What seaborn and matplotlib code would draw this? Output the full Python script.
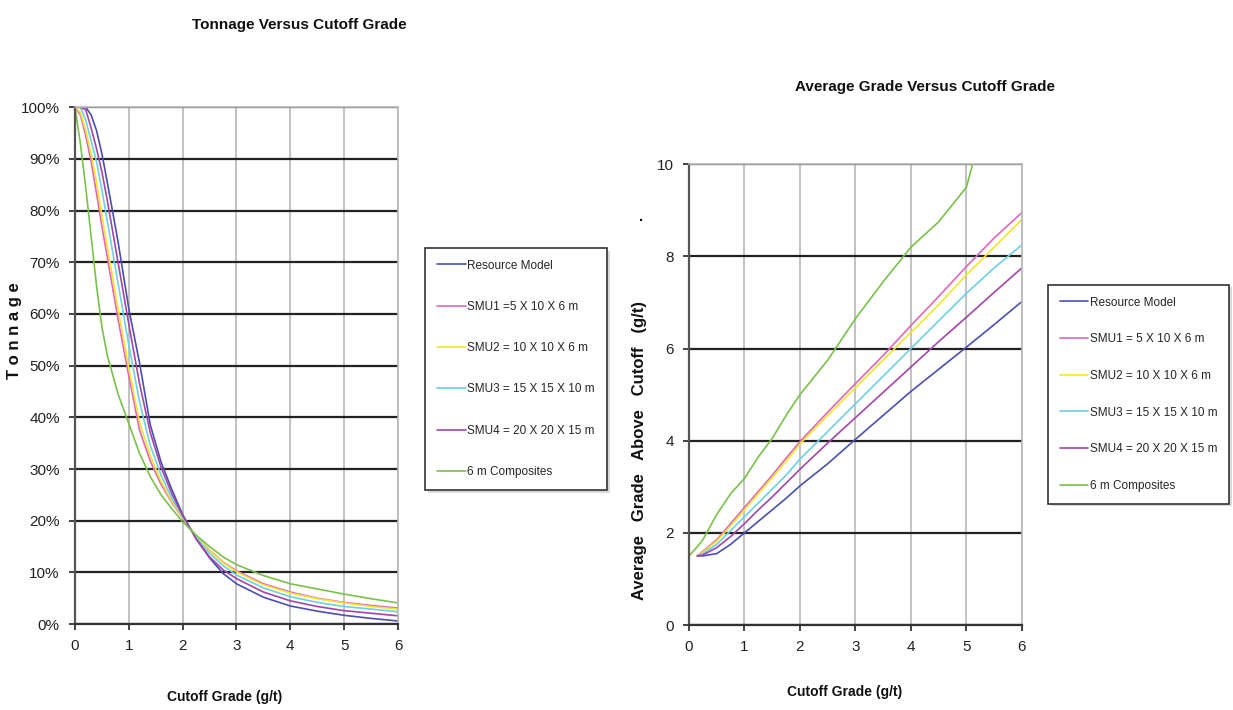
import numpy as np
import pandas as pd
import matplotlib.pyplot as plt
import seaborn as sns

# Series names and colours
series = ['Resource Model', 'SMU1 =5 X 10 X 6 m', 'SMU2 = 10 X 10 X 6 m',
          'SMU3 = 15 X 15 X 10 m', 'SMU4 = 20 X 20 X 15 m', '6 m Composites']
series_right = ['Resource Model', 'SMU1 = 5 X 10 X 6 m', 'SMU2 = 10 X 10 X 6 m',
                'SMU3 = 15 X 15 X 10 m', 'SMU4 = 20 X 20 X 15 m', '6 m Composites']
colors = ['#4a4fb0', '#e266b8', '#f2e52a', '#6cd0e8', '#a444a8', '#78c24a']

# Tonnage (%) vs cutoff grade (g/t)
ton_x = [0, 0.1, 0.2, 0.3, 0.4, 0.5, 0.6, 0.8, 1.0, 1.2, 1.4, 1.6, 1.8, 2.0,
         2.25, 2.5, 2.75, 3.0, 3.5, 4.0, 4.5, 5.0, 5.5, 6.0]
ton_resource = [100, 100, 100, 98.5, 95.5, 91, 85.5, 74, 61, 50.5, 38.5, 31.3, 26, 21.2,
                16.5, 12.8, 9.8, 7.8, 5.2, 3.5, 2.5, 1.7, 1.1, 0.6]
ton_smu1 = [100, 98.5, 94.5, 89.5, 83.3, 77, 71, 59, 48, 37.5, 31.5, 27, 23.5, 20.5,
            17, 14.3, 12, 10.3, 7.8, 6.2, 5, 4.2, 3.6, 3.1]
ton_smu2 = [100, 99, 95.5, 91, 85.5, 79, 73, 61, 49.5, 39, 32.5, 27.6, 23.7, 20.6,
            17, 14.2, 11.9, 10.1, 7.6, 6, 4.9, 4.1, 3.4, 2.9]
ton_smu3 = [100, 100, 97.5, 93.5, 89.5, 84, 78, 66, 54, 43, 34.5, 28.8, 24.3, 20.8,
            16.8, 13.7, 11.3, 9.5, 7, 5.3, 4.2, 3.4, 2.9, 2.4]
ton_smu4 = [100, 100, 99.5, 96, 92, 87.5, 82, 70, 58, 46.5, 37, 30.3, 25.2, 21,
            16.5, 13, 10.5, 8.8, 6.2, 4.5, 3.4, 2.6, 2.1, 1.6]
ton_comp = [100, 93, 84.5, 75, 65.5, 57.5, 52, 44.5, 38.8, 33, 28.5, 25, 22.3, 19.8,
            17.2, 15, 13, 11.5, 9.4, 7.8, 6.8, 5.8, 4.9, 4.1]

# Average grade above cutoff (g/t) vs cutoff grade (g/t)
grd_x = [0, 0.15, 0.25, 0.5, 0.75, 1.0, 1.25, 1.5, 1.75, 2.0, 2.5, 3.0, 3.5,
         4.0, 4.5, 5.0, 5.1, 5.2, 5.5, 6.0]
grd_resource = [np.nan, 1.5, 1.5, 1.55, 1.75, 2.0, 2.25, 2.5, 2.75, 3.02, 3.5, 4.03, 4.55,
                5.07, 5.55, 6.03, np.nan, np.nan, 6.52, 7.02]
grd_smu1 = [np.nan, 1.5, 1.6, 1.85, 2.2, 2.55, 2.9, 3.25, 3.62, 3.98, 4.62, 5.24, 5.85,
            6.5, 7.13, 7.78, np.nan, np.nan, 8.4, 8.95]
grd_smu2 = [np.nan, 1.5, 1.58, 1.82, 2.15, 2.5, 2.85, 3.2, 3.55, 3.93, 4.55, 5.15, 5.75,
            6.35, 6.95, 7.6, np.nan, np.nan, 8.2, 8.8]
grd_smu3 = [np.nan, 1.5, 1.55, 1.75, 2.05, 2.35, 2.65, 2.95, 3.25, 3.6, 4.2, 4.8, 5.4,
            6.0, 6.6, 7.2, np.nan, np.nan, 7.75, 8.25]
grd_smu4 = [np.nan, 1.5, 1.52, 1.68, 1.92, 2.2, 2.5, 2.78, 3.08, 3.38, 3.95, 4.5, 5.05,
            5.6, 6.15, 6.68, np.nan, np.nan, 7.22, 7.75]
grd_comp = [1.5, 1.7, 1.85, 2.4, 2.85, 3.18, 3.65, 4.05, 4.55, 5.0, 5.75, 6.65, 7.45,
            8.2, 8.75, 9.5, 9.95, 11.0, np.nan, np.nan]

ton_df = pd.DataFrame({'x': ton_x, series[0]: ton_resource, series[1]: ton_smu1,
                       series[2]: ton_smu2, series[3]: ton_smu3, series[4]: ton_smu4,
                       series[5]: ton_comp})
ton_long = ton_df.melt(id_vars='x', var_name='Series', value_name='y').dropna()

grd_df = pd.DataFrame({'x': grd_x, series_right[0]: grd_resource, series_right[1]: grd_smu1,
                       series_right[2]: grd_smu2, series_right[3]: grd_smu3,
                       series_right[4]: grd_smu4, series_right[5]: grd_comp})
grd_long = grd_df.melt(id_vars='x', var_name='Series', value_name='y').dropna()

sns.set_theme(style='white')
plt.rcParams['font.family'] = ['Liberation Sans', 'DejaVu Sans']

fig = plt.figure(figsize=(12.33, 7.10), dpi=100)
ax1 = fig.add_axes([0.0608, 0.121, 0.262, 0.728])
ax2 = fig.add_axes([0.5588, 0.1197, 0.270, 0.649])


def style_axes(ax, yticks, ylabels):
    ax.set_xlim(0, 6)
    ax.set_xticks(range(7))
    ax.set_yticks(yticks)
    ax.set_yticklabels(ylabels)
    ax.set_xlabel('')
    ax.set_ylabel('')
    ax.xaxis.grid(True, color='#b8b8b8', lw=1.2)
    ax.yaxis.grid(True, color='#222222', lw=1.6)
    ax.set_axisbelow(True)
    for s in ['top', 'right']:
        ax.spines[s].set_color('#b8b8b8')
        ax.spines[s].set_linewidth(1.2)
    ax.spines['left'].set_color('#555555')
    ax.spines['left'].set_linewidth(1.6)
    ax.spines['bottom'].set_color('#333333')
    ax.spines['bottom'].set_linewidth(1.6)
    ax.tick_params(axis='both', which='major', labelsize=11, colors='#222222',
                   length=4, width=1.2, direction='out', left=True, bottom=True, pad=7)


sns.lineplot(data=ton_long, x='x', y='y', hue='Series', palette=colors, ax=ax1,
             lw=1.2, legend=True, sort=False)
ax1.set_ylim(0, 100)
style_axes(ax1, range(0, 101, 10), [f'{v}%' for v in range(0, 101, 10)])

sns.lineplot(data=grd_long, x='x', y='y', hue='Series', palette=colors, ax=ax2,
             lw=1.2, legend=True, sort=False)
ax2.set_ylim(0, 10)
style_axes(ax2, range(0, 11, 2), [str(v) for v in range(0, 11, 2)])

for ax, x0, y0, lsp in [(ax1, 0.345, 0.651, 2.48), (ax2, 0.85, 0.599, 2.09)]:
    leg = ax.legend(loc='upper left', bbox_to_anchor=(x0, y0), bbox_transform=fig.transFigure,
                    fontsize=8.5, frameon=True, fancybox=False,
                    shadow={'facecolor': '#d0d0d0', 'edgecolor': 'none', 'alpha': 0.8},
                    edgecolor='#333333', labelspacing=lsp, handlelength=2.4,
                    handletextpad=0.15, borderpad=1.0, borderaxespad=0)
    leg.get_frame().set_linewidth(1.2)

bold = dict(fontweight='bold', color='#111111')
fig.text(0.243, 0.965, 'Tonnage Versus Cutoff Grade', ha='center', va='center', fontsize=11, **bold)
fig.text(0.75, 0.877, 'Average Grade Versus Cutoff Grade', ha='center', va='center', fontsize=11, **bold)
fig.text(0.1825, 0.018, 'Cutoff Grade (g/t)', ha='center', va='center', fontsize=10, **bold)
fig.text(0.685, 0.025, 'Cutoff Grade (g/t)', ha='center', va='center', fontsize=10, **bold)
fig.text(0.012, 0.535, 'T o n n a g e', rotation=90, ha='center', va='center', fontsize=12, **bold)
fig.text(0.519, 0.366, 'Average   Grade   Above   Cutoff   (g/t)', rotation=90, ha='center',
         va='center', fontsize=12, **bold)
fig.text(0.52, 0.694, '.', ha='center', va='center', fontsize=11, **bold)

fig.savefig('out.png', dpi=100, facecolor='white')
